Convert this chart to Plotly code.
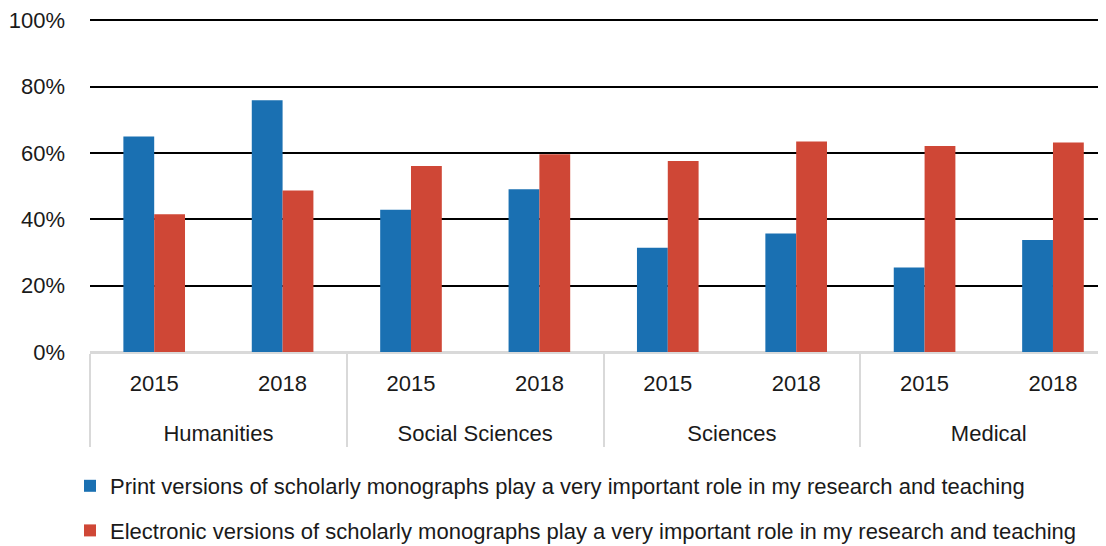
import plotly.graph_objects as go

groups = ["Humanities", "Humanities", "Social Sciences", "Social Sciences",
          "Sciences", "Sciences", "Medical", "Medical"]
years = ["2015", "2018", "2015", "2018", "2015", "2018", "2015", "2018"]
print_vals = [65.0, 75.9, 42.9, 49.1, 31.4, 35.7, 25.5, 33.8]
electronic_vals = [41.5, 48.7, 56.1, 59.6, 57.6, 63.5, 62.1, 63.2]
series_names = [
    "Print versions of scholarly monographs play a very important role in my research and teaching",
    "Electronic versions of scholarly monographs play a very important role in my research and teaching",
]
colors = ["#1A70B2", "#CF4736"]

FONT = "Liberation Sans Narrow, Arial Narrow, Liberation Sans, Arial, sans-serif"
FS = 22
W, H = 1098, 538  # page body has an 8px margin in the viewer

# pad the first label level so the second level sits lower, as in the reference
year_labels = [y + "<br><span style='font-size:46px'> </span>" for y in years]

fig = go.Figure()
for name, vals, col, grp in zip(series_names, [print_vals, electronic_vals], colors, ["a", "b"]):
    fig.add_trace(go.Bar(
        x=[groups, year_labels], y=vals, name=name,
        marker=dict(color=col, line=dict(width=0)),
        legendgroup=grp,
    ))

fig.update_layout(
    width=W, height=H,
    margin=dict(l=82, r=0, t=9, b=194, autoexpand=False),
    paper_bgcolor="white", plot_bgcolor="white",
    font=dict(family=FONT, size=FS, color="#1a1a1a"),
    barmode="group", bargap=0.52, bargroupgap=0,
    showlegend=True,
    legend=dict(
        orientation="v", x=62 / W, y=1 - 457 / H, xref="container", yref="container",
        xanchor="left", yanchor="top", tracegroupgap=13,
        font=dict(family=FONT, size=FS, color="#1a1a1a"),
        bgcolor="rgba(0,0,0,0)", borderwidth=0,
    ),
    xaxis=dict(
        type="multicategory", showgrid=False, ticks="", automargin=False,
        range=[-0.5, 7.413],  # last category runs past the right edge, as in the reference
        showline=True, linecolor="#d9d9d9", linewidth=2,
        showdividers=True, dividercolor="#d9d9d9", dividerwidth=2,
        ticklabelstandoff=11,
        tickfont=dict(family=FONT, size=FS, color="#1a1a1a"),
    ),
    yaxis=dict(
        range=[0, 101], dtick=20, tick0=0, ticksuffix="%",
        showgrid=True, gridcolor="#000000", gridwidth=2, automargin=False,
        zeroline=True, zerolinecolor="#d9d9d9", zerolinewidth=2,
        showline=False, ticks="", ticklabelstandoff=24,
        tickfont=dict(family=FONT, size=FS, color="#1a1a1a"),
    ),
)

fig.write_html("out.html")
